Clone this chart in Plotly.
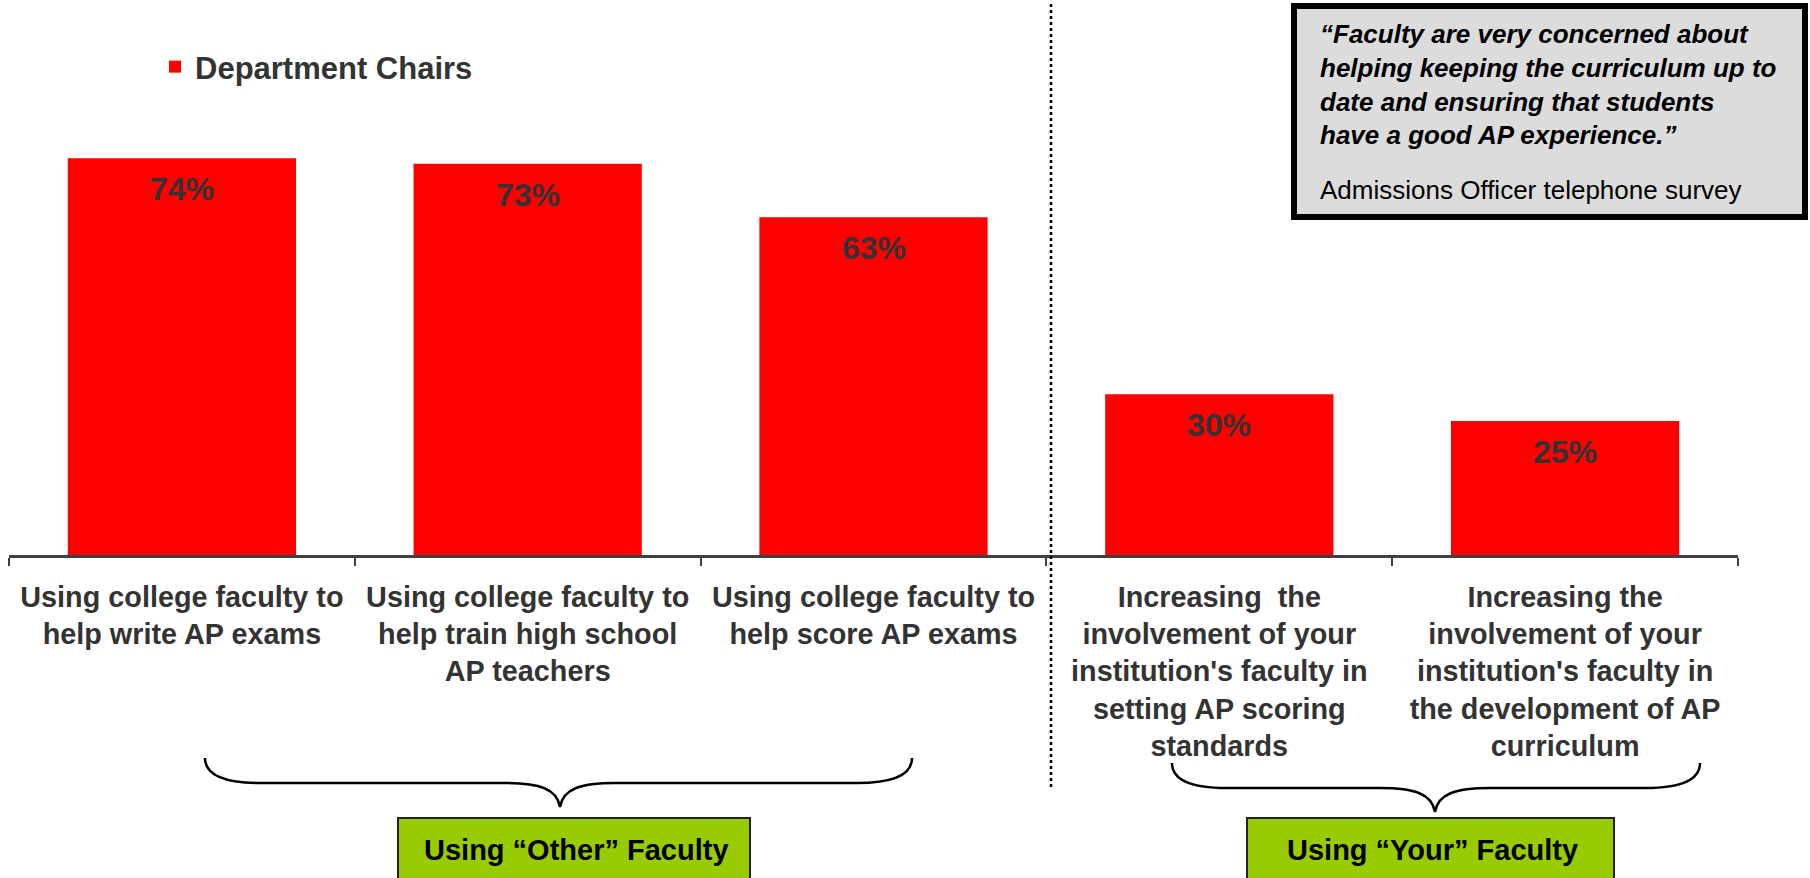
import plotly.graph_objects as go

categories = [
    "Using college faculty to<br>help write AP exams",
    "Using college faculty to<br>help train high school<br>AP teachers",
    "Using college faculty to<br>help score AP exams",
    "Increasing  the<br>involvement of your<br>institution's faculty in<br>setting AP scoring<br>standards",
    "Increasing the<br>involvement of your<br>institution's faculty in<br>the development of AP<br>curriculum",
]
values = [74, 73, 63, 30, 25]
value_labels = ["74%", "73%", "63%", "30%", "25%"]
series_name = "Department Chairs"
group_labels = ["Using \u201cOther\u201d Faculty", "Using \u201cYour\u201d Faculty"]
quote_lines = [
    "\u201cFaculty are very concerned about",
    "helping keeping the curriculum up to",
    "date and ensuring that students",
    "have a good AP experience.\u201d",
]
quote_source = "Admissions Officer telephone survey"

W, H = 1810, 878
L, R, T, B = 9, 1738, 19, 555
FONT = "Liberation Sans, Arial, sans-serif"
DARK = "#333333"


def px(x):
    return (x - L) / (R - L)


def py(y):
    return (B - y) / (B - T)


fig = go.Figure()
fig.add_trace(go.Bar(
    x=categories, y=values, name=series_name,
    marker=dict(color="#FF0000", line=dict(width=0)),
    showlegend=True,
))

annotations = []
for c, v, t in zip(categories, values, value_labels):
    annotations.append(dict(
        x=c, y=v, xref="x", yref="y", text="<b>%s</b>" % t, showarrow=False,
        yanchor="middle", yshift=-31,
        font=dict(family=FONT, size=32, color=DARK),
    ))

# quote
annotations.append(dict(
    x=px(1318), y=py(84), xref="paper", yref="paper", xanchor="left", yanchor="middle",
    align="left", showarrow=False,
    text="<br>".join("<b><i>%s</i></b>" % s for s in quote_lines),
    font=dict(family=FONT, size=26, color="#000000"),
))
annotations.append(dict(
    x=px(1318), y=py(190), xref="paper", yref="paper", xanchor="left", yanchor="middle",
    align="left", showarrow=False, text=quote_source,
    font=dict(family=FONT, size=26, color="#000000"),
))

# group boxes
box_px = [(398, 750), (1247, 1614)]
for (x0, x1), lab in zip(box_px, group_labels):
    annotations.append(dict(
        x=px((x0 + x1) / 2 + 2), y=py(850), xref="paper", yref="paper",
        xanchor="center", yanchor="middle", showarrow=False,
        text="<b>%s</b>" % lab, font=dict(family=FONT, size=29, color="#000000"),
    ))

shapes = []
# dotted separator
shapes.append(dict(type="line", xref="paper", yref="paper",
                   x0=px(1051), x1=px(1051), y0=py(4), y1=py(789),
                   line=dict(color="#000000", width=2.5, dash="dot")))
# quote box
shapes.append(dict(type="rect", xref="paper", yref="paper",
                   x0=px(1294), x1=px(1805), y0=py(6), y1=py(217),
                   fillcolor="#DCDCDC", line=dict(color="#000000", width=6), layer="below"))
# green boxes
for x0, x1 in box_px:
    shapes.append(dict(type="rect", xref="paper", yref="paper",
                       x0=px(x0), x1=px(x1), y0=py(818), y1=py(882),
                       fillcolor="#99CC00", line=dict(color="#222222", width=2)))


def brace(xl, xc, xr, ytop, ymid, ytip):
    def P(x, y):
        return "%.5f,%.5f" % (px(x), py(y))
    d = "M " + P(xl, ytop)
    d += " C " + P(xl, ymid - 10) + " " + P(xl + 15, ymid) + " " + P(xl + 55, ymid)
    d += " L " + P(xc - 55, ymid)
    d += " C " + P(xc - 20, ymid) + " " + P(xc - 3, ymid + 6) + " " + P(xc, ytip)
    d += " C " + P(xc + 3, ymid + 6) + " " + P(xc + 20, ymid) + " " + P(xc + 55, ymid)
    d += " L " + P(xr - 55, ymid)
    d += " C " + P(xr - 15, ymid) + " " + P(xr, ymid - 10) + " " + P(xr, ytop)
    return d


shapes.append(dict(type="path", xref="paper", yref="paper",
                   path=brace(205, 560, 912, 758, 783, 807),
                   line=dict(color="#000000", width=2.5)))
shapes.append(dict(type="path", xref="paper", yref="paper",
                   path=brace(1172, 1435, 1700, 763, 788, 812),
                   line=dict(color="#000000", width=2.5)))

fig.update_layout(
    width=W, height=H,
    margin=dict(l=L, r=W - R, t=T, b=H - B, pad=0),
    paper_bgcolor="#FFFFFF", plot_bgcolor="#FFFFFF",
    bargap=0.34,
    font=dict(family=FONT, color=DARK),
    showlegend=True,
    legend=dict(x=px(155), y=py(67), xanchor="left", yanchor="middle",
                bgcolor="rgba(0,0,0,0)",
                font=dict(family=FONT, size=31, color=DARK, weight="bold")),
    annotations=annotations,
    shapes=shapes,
    xaxis=dict(
        type="category", showgrid=False, zeroline=False,
        showline=True, linecolor="#404040", linewidth=3,
        ticks="outside", tickson="boundaries", ticklen=8, tickwidth=1.5, tickcolor="#404040",
        tickfont=dict(family=FONT, size=28.8, color=DARK, weight="bold"),
        tickangle=0, ticklabelstandoff=14,
    ),
    yaxis=dict(range=[0, 100], visible=False, showgrid=False, zeroline=False),
)

fig.write_html("out.html", config={"displayModeBar": False},
               post_script="document.body.style.margin='0';")
